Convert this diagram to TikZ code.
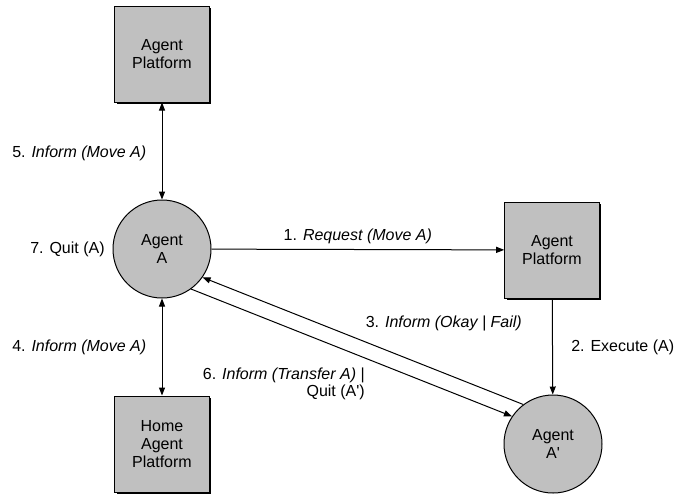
\documentclass[tikz,border=0pt]{standalone}
\usepackage{fontspec}
\setmainfont{Liberation Sans}[Ligatures=TeXOff]
\usetikzlibrary{arrows.meta,shadows}
\definecolor{boxgray}{HTML}{C0C0C0}
\begin{document}
\begin{tikzpicture}[x=0.75pt,y=-0.75pt,
  font=\fontsize{12}{13.75}\selectfont,
  platform/.style={draw=black, line width=0.75pt, fill=boxgray,
    minimum width=71pt, minimum height=72pt, align=center, inner sep=0pt,
    general shadow={fill=black, shadow xshift=1.5pt, shadow yshift=-1.5pt}},
  agent/.style={circle, draw=black, line width=0.75pt, fill=boxgray,
    minimum size=73.5pt, align=center, inner sep=0pt},
  tip/.tip={Triangle[length=6pt,width=4.5pt]},
  conn/.style={line width=0.75pt, -tip},
  biconn/.style={line width=0.75pt, tip-tip},
  lbl/.style={inner sep=0pt}]
\useasboundingbox (0,0) rectangle (674,497);
\node[platform] (top) at (162,54) {Agent\\Platform};
\node[agent] (A) at (162,249) {Agent\\A};
\node[platform] (right) at (552,250) {Agent\\Platform};
\node[agent] (A2) at (553,444) {Agent\\A'};
\node[platform] (home) at (162,444) {Home\\Agent\\Platform};

\draw[biconn] (top) -- (A);
\draw[conn] (A) -- node[lbl, above=4pt] (l1) {1. \textit{Request (Move A)}} (right);
\draw[conn] (right) -- (A2);
\draw[biconn] (A) -- (home);
\draw[conn] (A2.127) -- (A.-35);
\draw[conn] (A.-54) -- (A2.146);

\node[lbl, anchor=west] (l5) at (12,153) {5. \textit{Inform (Move A)}};
\node[lbl, anchor=west] (l7) at (30,249) {7. Quit (A)};
\node[lbl, anchor=west] (l4) at (12,347) {4. \textit{Inform (Move A)}};
\node[lbl, anchor=east] (l3) at (522,323) {3. \textit{Inform (Okay | Fail)}};
\node[lbl, anchor=west] (l2) at (571,347) {2. Execute (A)};
\node[lbl, anchor=east, align=right] (l6) at (365,383.5) {6. \textit{Inform (Transfer A)} |\\[-1pt]Quit (A')};
\end{tikzpicture}
\end{document}
